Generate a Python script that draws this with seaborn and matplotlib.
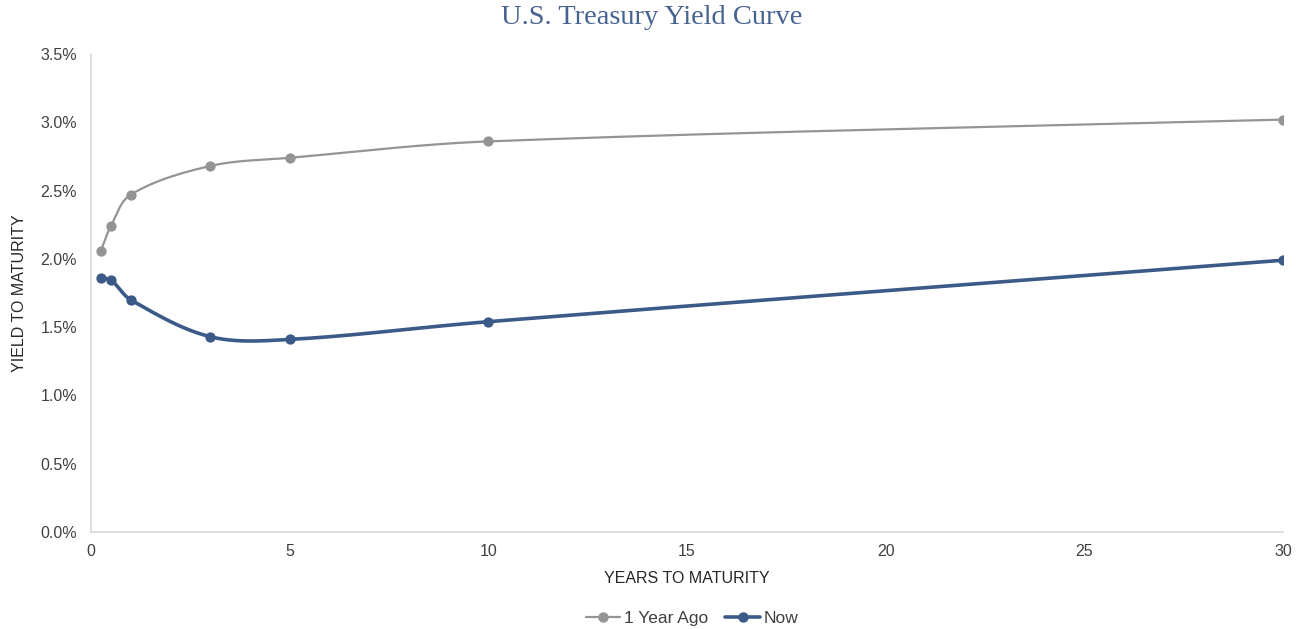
import numpy as np
import pandas as pd
import matplotlib
matplotlib.use("Agg")
import matplotlib.pyplot as plt
from matplotlib.lines import Line2D
import seaborn as sns

# Data
maturities = [0.25, 0.5, 1, 3, 5, 10, 30]
year_ago = [2.06, 2.24, 2.47, 2.68, 2.74, 2.86, 3.02]
now = [1.86, 1.845, 1.70, 1.43, 1.41, 1.54, 1.99]
series_names = ["1 Year Ago", "Now"]
y_ticks = [0.0, 0.5, 1.0, 1.5, 2.0, 2.5, 3.0, 3.5]
x_ticks = [0, 5, 10, 15, 20, 25, 30]

colors = {"1 Year Ago": "#949494", "Now": "#3b5a88"}
widths = {"1 Year Ago": 1.6, "Now": 2.6}

sns.set_theme(style="white")
plt.rcParams['font.family'] = ['Liberation Sans', 'DejaVu Sans']

fig = plt.figure(figsize=(13.01, 6.29), dpi=100)
ax = fig.add_axes([91/1301, 1-532/629, (1283-91)/1301, (532-54)/629])

XS = 1192/30.0   # px per x unit
YS = 478/3.5     # px per y unit


def smooth(xs, ys, n=60, tension=0.5):
    # Catmull-Rom style smoothing in screen-like scale (like Excel smoothed lines)
    P = np.column_stack([np.array(xs) * XS, np.array(ys) * YS])
    P = np.vstack([P[0], P, P[-1]])
    out = []
    for i in range(1, len(P) - 2):
        p0, p1, p2, p3 = P[i-1], P[i], P[i+1], P[i+2]
        d1 = np.linalg.norm(p2 - p1)
        m1 = (p2 - p0) * tension * d1 / max(np.linalg.norm(p2 - p0), 1e-9)
        m2 = (p3 - p1) * tension * d1 / max(np.linalg.norm(p3 - p1), 1e-9)
        if i == 1:
            m1 = (p2 - p1) * tension
        if i == len(P) - 3:
            m2 = (p2 - p1) * tension
        t = np.linspace(0, 1, n)[:, None]
        c1 = p1 + m1 * 2 / 3
        c2 = p2 - m2 * 2 / 3
        seg = ((1-t)**3) * p1 + 3*((1-t)**2)*t*c1 + 3*(1-t)*t**2*c2 + t**3*p2
        out.append(seg if i == 1 else seg[1:])
    S = np.vstack(out)
    return S[:, 0] / XS, S[:, 1] / YS


rows = []
for name, vals in zip(series_names, [year_ago, now]):
    sx, sy = smooth(maturities, vals)
    rows.append(pd.DataFrame({"x": sx, "y": sy, "series": name}))
curve = pd.concat(rows, ignore_index=True)
pts = pd.DataFrame({
    "x": maturities * 2,
    "y": year_ago + now,
    "series": [series_names[0]] * len(maturities) + [series_names[1]] * len(maturities),
})

for name in series_names:
    sub = curve[curve.series == name]
    sns.lineplot(data=sub, x="x", y="y", sort=False, color=colors[name],
                 linewidth=widths[name], ax=ax, legend=False, estimator=None)
    sp = pts[pts.series == name]
    sns.scatterplot(data=sp, x="x", y="y", color=colors[name], s=55,
                    edgecolor=colors[name], linewidth=0, ax=ax, legend=False, zorder=3)

ax.set_xlim(0, 30)
ax.set_ylim(0, 3.5)
ax.set_xticks(x_ticks)
ax.set_xticklabels([str(v) for v in x_ticks])
ax.set_yticks(y_ticks)
ax.set_yticklabels([f"{v:.1f}%" for v in y_ticks])
ax.tick_params(axis="both", length=0, labelsize=11.5, colors="#404040")
ax.tick_params(axis="y", pad=10)
ax.tick_params(axis="x", pad=9)
for s in ["top", "right"]:
    ax.spines[s].set_visible(False)
for s in ["left", "bottom"]:
    ax.spines[s].set_color("#d9d9d9")
    ax.spines[s].set_linewidth(1.2)
ax.grid(False)

ax.set_xlabel("YEARS TO MATURITY", fontsize=11.5, color="#262626", labelpad=8)
ax.set_ylabel("YIELD TO MATURITY", fontsize=11.5, color="#262626", labelpad=10)

fig.text(652/1301, 1-18/629, "U.S. Treasury Yield Curve", ha="center", va="center",
         fontsize=20.5, family=["Liberation Serif", "DejaVu Serif"], color="#46628f")

handles = [Line2D([0], [0], color=colors[n], lw=widths[n], marker="o", markersize=6.5)
           for n in series_names]
fig.legend(handles, series_names, loc="center", bbox_to_anchor=(692/1301, 1-618/629),
           ncol=2, frameon=False, fontsize=12.5, handlelength=2.0, columnspacing=1.0,
           handletextpad=0.2, labelcolor="#404040")

fig.savefig("out.png", dpi=100)
